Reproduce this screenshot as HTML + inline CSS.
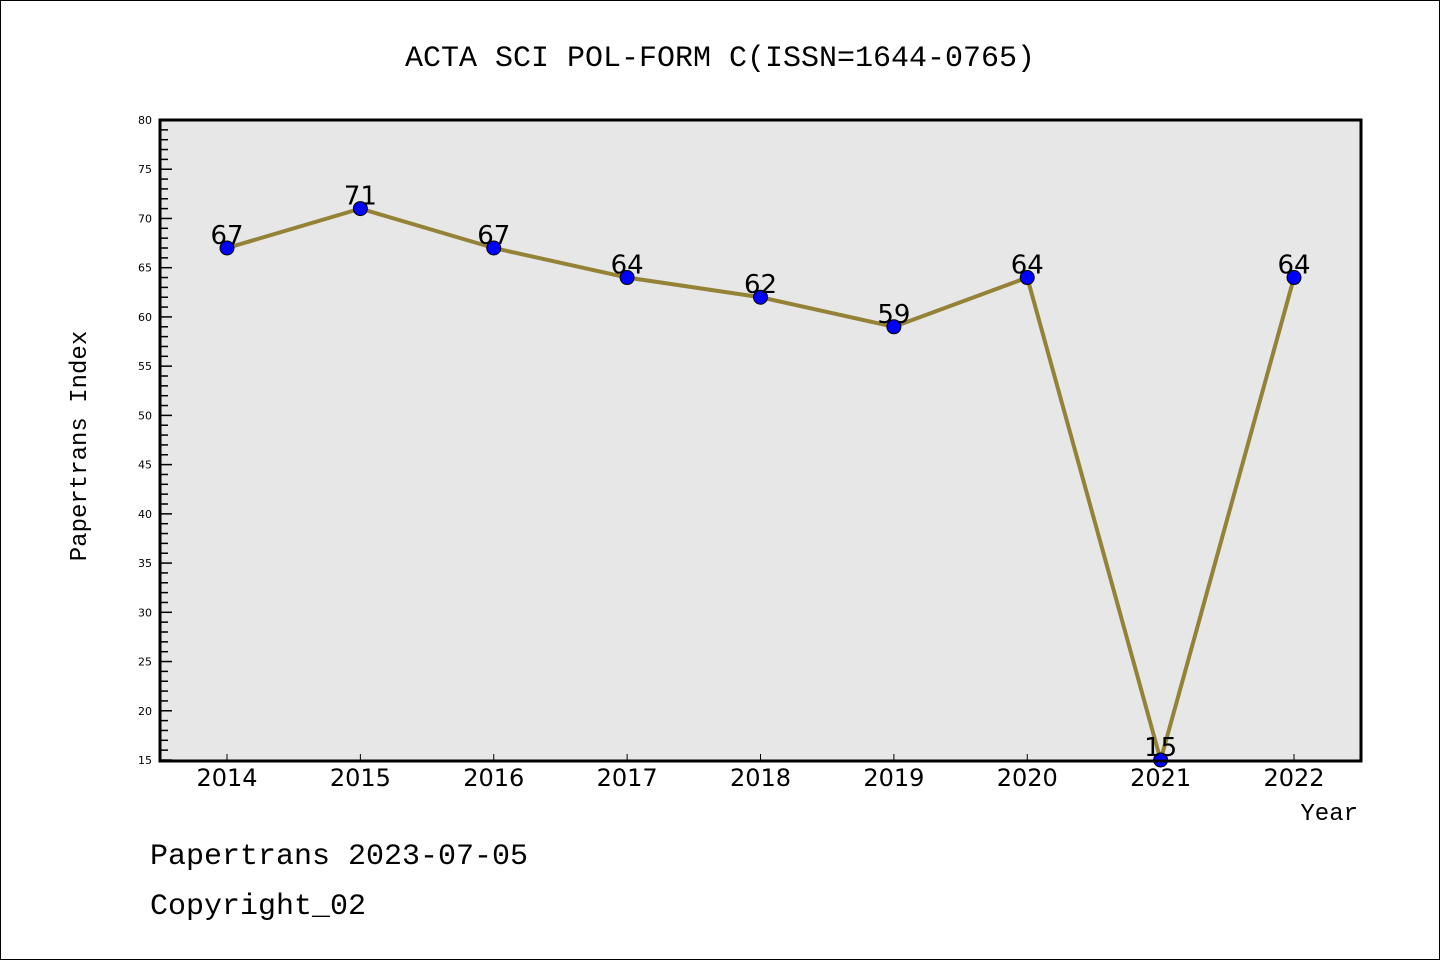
<!DOCTYPE html>
<html><head><meta charset="utf-8"><style>
html,body{margin:0;padding:0;background:#fff}
svg{display:block}
text{font-family:"Liberation Mono","DejaVu Sans Mono",monospace}
</style></head><body>
<svg id="c" width="1440" height="960" xmlns="http://www.w3.org/2000/svg">
<rect x="0.5" y="0.5" width="1439" height="959" fill="#fff" stroke="#000"/>
<text x="720" y="66" text-anchor="middle" font-size="30">ACTA SCI POL-FORM C(ISSN=1644-0765)</text>
<rect x="160" y="120" width="1201" height="641" fill="#e7e7e7"/>
<g id="axes"></g>
<g id="marks"></g>
<rect x="160" y="120" width="1201" height="641" fill="none" stroke="#000" stroke-width="3"/>
<text x="86" y="446" text-anchor="middle" font-size="24" transform="rotate(-90 86 446)">Papertrans Index</text>
<text x="1358" y="820" text-anchor="end" font-size="24">Year</text>
<text x="150" y="864" font-size="30">Papertrans 2023-07-05</text>
<text x="150" y="914" font-size="30">Copyright_02</text>
</svg>
<script>
const years=["2014","2015","2016","2017","2018","2019","2020","2021","2022"];
const values=[67,71,67,64,62,59,64,15,64];
const yTicks=[15,20,25,30,35,40,45,50,55,60,65,70,75,80];
const NS="http://www.w3.org/2000/svg";
const yMin=15,yMax=80;
function ys(v){return 760-(v-yMin)*(640/(yMax-yMin));}
function xs(i){return 227+i*(1294-227)/(years.length-1);}
function mk(t,a,p){const e=document.createElementNS(NS,t);for(const k in a)e.setAttribute(k,a[k]);p.appendChild(e);return e;}
const ax=document.getElementById('axes'),mg=document.getElementById('marks');
for(let v=yMin;v<=yMax;v++){
  const major=yTicks.includes(v);
  const l=mk('line',{x1:160,x2:major?172:168,y1:ys(v),y2:ys(v),stroke:'#000','stroke-width':1.5},ax);
  
  
}
yTicks.forEach(v=>{
  const t=mk('text',{x:152,y:ys(v)+4,'text-anchor':'end','font-size':11,style:'font-family:"DejaVu Sans",sans-serif'},ax);
  t.textContent=v;
  
  
});
years.forEach((y,i)=>{
  const l=mk('line',{x1:xs(i),x2:xs(i),y1:760,y2:754,stroke:'#000','stroke-width':1},ax);
  
  
  const t=mk('text',{x:xs(i),y:786,'text-anchor':'middle','font-size':24,style:'font-family:"DejaVu Sans",sans-serif'},ax);
  t.textContent=y;
  
  
});
const pl=mk('polyline',{points:values.map((v,i)=>xs(i)+','+ys(v)).join(' '),fill:'none',stroke:'#948336','stroke-width':4,'stroke-linejoin':'round'},mg);


values.forEach((v,i)=>{
  const c=mk('circle',{cx:xs(i),cy:ys(v),r:7,fill:'#0000ff',stroke:'#000','stroke-width':1},mg);
  
  
});
values.forEach((v,i)=>{
  const t=mk('text',{x:xs(i),y:ys(v)-4,'text-anchor':'middle','font-size':26,style:'font-family:"DejaVu Sans",sans-serif'},mg);
  t.textContent=v;
  
  
});
</script>
</body></html>
